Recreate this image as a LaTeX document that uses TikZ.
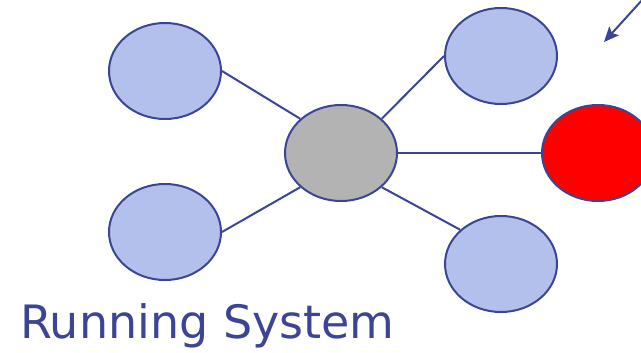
\documentclass[tikz,border=0pt]{standalone}
\usepackage{fontspec}
\setmainfont{DejaVu Sans}
\usetikzlibrary{shapes.geometric,arrows.meta}

\definecolor{edgeblue}{RGB}{60,68,150}
\definecolor{nodeblue}{RGB}{180,192,236}
\definecolor{nodegray}{RGB}{179,179,179}

\tikzset{every picture/.style={line width=2pt}}
\tikzset{
  blob/.style={ellipse, draw=edgeblue, fill=nodeblue, minimum width=112pt, minimum height=96pt, inner sep=0pt},
  link/.style={draw=edgeblue, line width=2pt}
}

\begin{document}
\begin{tikzpicture}[x=1pt,y=1pt,yscale=-1,xscale=1]
\useasboundingbox (0,0) rectangle (641,353);

%Shape: Ellipse [id:lefttop]
\node [blob] (lt) at (165,71) {};
%Shape: Ellipse [id:leftbottom]
\node [blob] (lb) at (165,232) {};
%Shape: Ellipse [id:hub]
\node [blob, fill=nodegray] (hub) at (341,153) {};
%Shape: Ellipse [id:righttop]
\node [blob] (rt) at (501,56) {};
%Shape: Ellipse [id:rightbottom]
\node [blob] (rb) at (501,264) {};
%Shape: Ellipse [id:newnode]
\node [blob, fill=red] (new) at (598,153) {};

%Straight Lines
\draw [link] (lt.east) -- (hub.140) ;
\draw [link] (lb.east) -- (hub.220) ;
\draw [link] (hub.40) -- (rt.west) ;
\draw [link] (hub.-40) -- (rb.140) ;
\draw [link] (hub.east) -- (new.west) ;

%Arrow
\coordinate (tail) at (643,-1);
\coordinate (tip) at (604,42);
\draw [link, -{Stealth[length=15pt,width=13pt,inset=3pt]}] (tail) -- (tip) ;

% Text Node
\node [anchor=base west, inner sep=0pt, text=edgeblue, font=\fontsize{46}{50}\selectfont] (title) at (19,338) {Running System};

\end{tikzpicture}
\end{document}
